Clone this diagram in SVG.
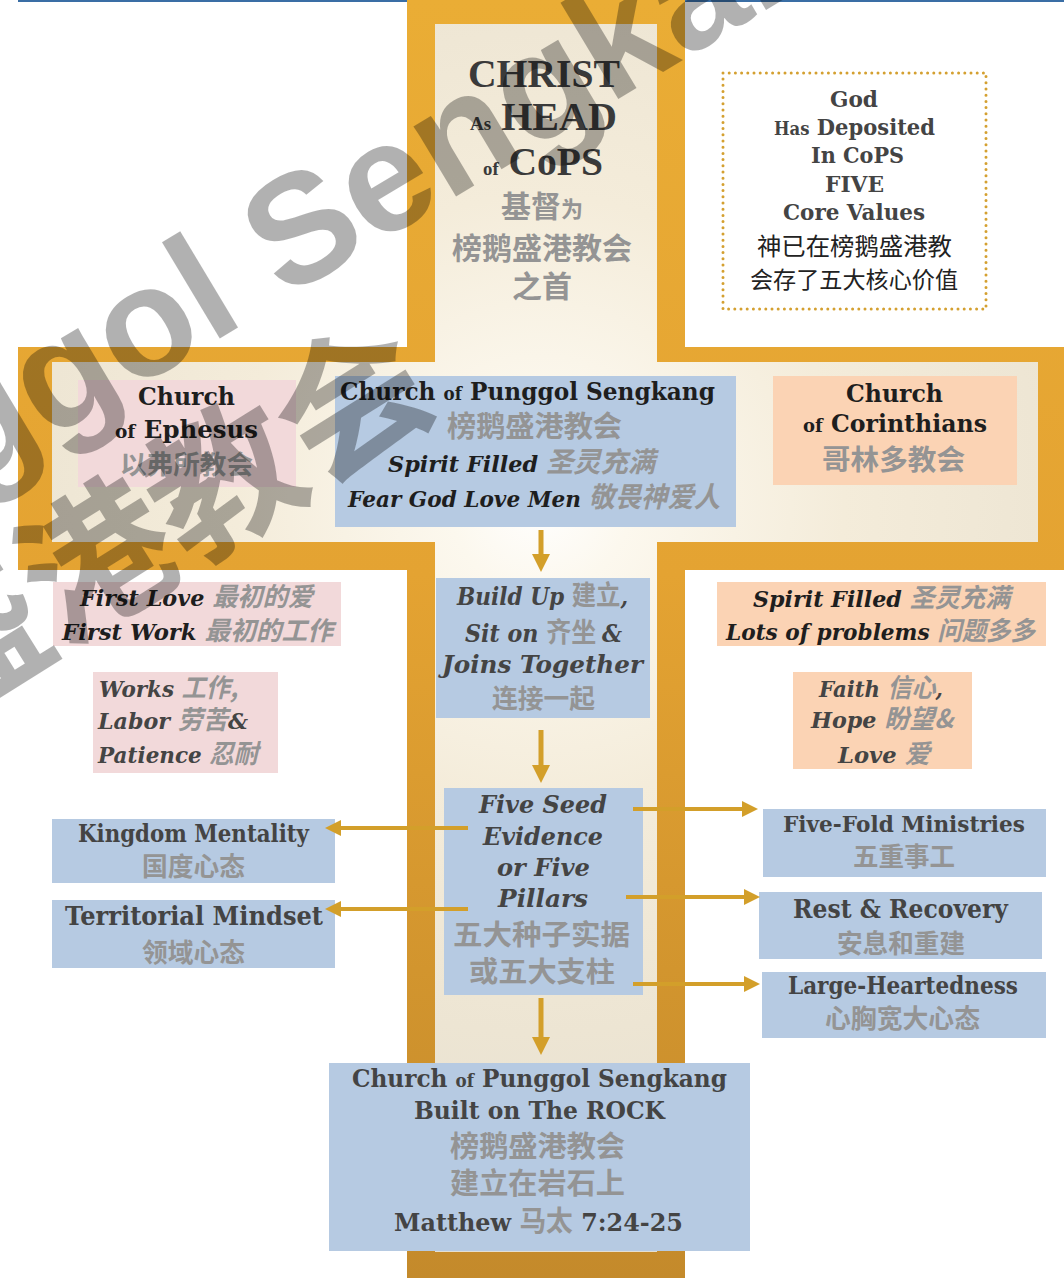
<svg xmlns="http://www.w3.org/2000/svg" width="1064" height="1278" viewBox="0 0 1064 1278">
<defs>
<linearGradient id="gold" x1="0" y1="0" x2="0" y2="1278" gradientUnits="userSpaceOnUse">
<stop offset="0" stop-color="#eaad35"/>
<stop offset="0.45" stop-color="#e4a332"/>
<stop offset="1" stop-color="#c48a2b"/>
</linearGradient>
<radialGradient id="glow" cx="540" cy="500" r="760" gradientUnits="userSpaceOnUse">
<stop offset="0" stop-color="#ffffff"/>
<stop offset="0.12" stop-color="#fcf8ee"/>
<stop offset="0.4" stop-color="#f4ecda"/>
<stop offset="0.7" stop-color="#ede5d3"/>
<stop offset="1" stop-color="#e4dfd1"/>
</radialGradient>
<marker id="ah" viewBox="0 0 10 10" refX="2" refY="5" markerWidth="18" markerHeight="18" markerUnits="userSpaceOnUse" orient="auto"><path d="M0,0 L10,5 L0,10 Z" fill="#d39f2a"/></marker>
<marker id="ahs" viewBox="0 0 10 10" refX="2" refY="5" markerWidth="16" markerHeight="16" markerUnits="userSpaceOnUse" orient="auto"><path d="M0,0 L10,5 L0,10 Z" fill="#d39f2a"/></marker>
<style>
.tm{font-family:"Liberation Serif","Times New Roman",serif;font-weight:bold;fill:#3a3a3a}
.en{font-family:"DejaVu Serif","Liberation Serif",serif;font-weight:bold}
.ei{font-family:"DejaVu Serif","Liberation Serif",serif;font-weight:bold;font-style:italic}
.cn{font-family:"Noto Sans CJK SC",sans-serif;font-weight:bold;fill:#949494}
.ci{font-family:"Noto Sans CJK SC",sans-serif;font-weight:bold;font-style:italic;fill:#949494}
.cb{font-family:"Noto Sans CJK SC",sans-serif;font-weight:normal;fill:#222}
.k{fill:#1e1e1e}
.g{fill:#444}
.blue{fill:#b6cae2}
.pink{fill:#f2d9da}
.peach{fill:#fbd3b4}
.conn line{stroke:#d39f2a;fill:none}
.wm{font-family:"Liberation Sans",Arial,sans-serif;font-weight:bold;fill:#000;opacity:0.3}
.wmc{font-family:"Noto Sans CJK SC",sans-serif;font-weight:bold;fill:#000;opacity:0.3}
</style>
</defs>

<rect x="0" y="0" width="1064" height="1278" fill="#ffffff"/>
<line x1="18" y1="1" x2="1064" y2="1" stroke="#3a6ea5" stroke-width="2"/>

<g id="cross">
<path d="M407,0 H685 V347 H1064 V570 H685 V1278 H407 V570 H18 V347 H407 Z" fill="url(#gold)"/>
<path d="M435,24 H657 V362 H1038 V542 H657 V1252 H435 V542 H52 V362 H435 Z" fill="url(#glow)"/>
</g>

<g id="christ-head">
<text class="tm" x="468" y="87" font-size="40" textLength="152" lengthAdjust="spacingAndGlyphs">CHRIST</text>
<text class="tm" x="470" y="130" textLength="147" lengthAdjust="spacingAndGlyphs"><tspan font-size="19">As</tspan><tspan font-size="40"> HEAD</tspan></text>
<text class="tm" x="483" y="175" textLength="120" lengthAdjust="spacingAndGlyphs"><tspan font-size="19">of</tspan><tspan font-size="40"> CoPS</tspan></text>
<text class="cn" x="542" y="217" text-anchor="middle"><tspan font-size="30">基督</tspan><tspan font-size="22">为</tspan></text>
<text class="cn" x="542" y="259" text-anchor="middle" font-size="30">榜鹅盛港教会</text>
<text class="cn" x="542" y="297" text-anchor="middle" font-size="30">之首</text>
</g>

<g id="core-values">
<rect x="723" y="73" width="263" height="236" fill="none" stroke="#d4a030" stroke-width="3" stroke-linecap="round" stroke-dasharray="0 6.2"/>
<text class="en g" x="830" y="107" font-size="23" textLength="48" lengthAdjust="spacingAndGlyphs">God</text>
<text class="en g" x="774" y="135" textLength="161" lengthAdjust="spacingAndGlyphs"><tspan font-size="18">Has</tspan><tspan font-size="23"> Deposited</tspan></text>
<text class="en g" x="811" y="163" font-size="23" textLength="93" lengthAdjust="spacingAndGlyphs">In CoPS</text>
<text class="en g" x="825" y="192" font-size="23" textLength="59" lengthAdjust="spacingAndGlyphs">FIVE</text>
<text class="en g" x="783" y="220" font-size="23" textLength="142" lengthAdjust="spacingAndGlyphs">Core Values</text>
<text class="cb" x="757" y="255" font-size="24" textLength="195" lengthAdjust="spacingAndGlyphs">神已在榜鹅盛港教</text>
<text class="cb" x="750" y="288" font-size="23" textLength="208" lengthAdjust="spacingAndGlyphs">会存了五大核心价值</text>
</g>

<g id="ephesus">
<rect class="pink" x="78" y="380" width="218" height="107"/>
<text class="en k" x="138" y="405" font-size="25" textLength="97" lengthAdjust="spacingAndGlyphs">Church</text>
<text class="en k" x="115" y="438" textLength="143" lengthAdjust="spacingAndGlyphs"><tspan font-size="19">of</tspan><tspan font-size="25">  Ephesus</tspan></text>
<text class="cn" x="120" y="474" font-size="26" textLength="133" lengthAdjust="spacingAndGlyphs">以弗所教会</text>
</g>

<g id="cops">
<rect class="blue" x="335" y="376" width="401" height="151"/>
<text class="en k" x="340" y="400" font-size="25" textLength="375" lengthAdjust="spacingAndGlyphs">Church <tspan font-size="18">of</tspan> Punggol Sengkang</text>
<text class="cn" x="447" y="437" font-size="29" textLength="175" lengthAdjust="spacingAndGlyphs">榜鹅盛港教会</text>
<text x="388" y="472" textLength="267" lengthAdjust="spacingAndGlyphs"><tspan class="ei k" font-size="23">Spirit Filled </tspan><tspan class="ci" font-size="28">圣灵充满</tspan></text>
<text x="348" y="507" textLength="372" lengthAdjust="spacingAndGlyphs"><tspan class="ei k" font-size="23">Fear God Love Men </tspan><tspan class="ci" font-size="28">敬畏神爱人</tspan></text>
</g>

<g id="corinthians">
<rect class="peach" x="773" y="376" width="244" height="109"/>
<text class="en k" x="846" y="402" font-size="25" textLength="97" lengthAdjust="spacingAndGlyphs">Church</text>
<text class="en k" x="803" y="432" textLength="184" lengthAdjust="spacingAndGlyphs"><tspan font-size="19">of</tspan><tspan font-size="25"> Corinthians</tspan></text>
<text class="cn" x="822" y="470" font-size="28" textLength="143" lengthAdjust="spacingAndGlyphs">哥林多教会</text>
</g>

<g id="first-love">
<rect class="pink" x="53" y="582" width="288" height="64"/>
<text x="80" y="606" textLength="233" lengthAdjust="spacingAndGlyphs"><tspan class="ei k" font-size="23">First Love </tspan><tspan class="ci" font-size="26">最初的爱</tspan></text>
<text x="62" y="640" textLength="271" lengthAdjust="spacingAndGlyphs"><tspan class="ei k" font-size="23">First Work </tspan><tspan class="ci" font-size="26">最初的工作</tspan></text>
</g>

<g id="works">
<rect class="pink" x="93" y="672" width="185" height="101"/>
<text x="99" y="697" textLength="139" lengthAdjust="spacingAndGlyphs"><tspan class="ei g" font-size="23">Works </tspan><tspan class="ci" font-size="26">工作,</tspan></text>
<text x="98" y="729" textLength="150" lengthAdjust="spacingAndGlyphs"><tspan class="ei g" font-size="23">Labor </tspan><tspan class="ci" font-size="26">劳苦</tspan><tspan class="ei g" font-size="23">&amp;</tspan></text>
<text x="98" y="763" textLength="160" lengthAdjust="spacingAndGlyphs"><tspan class="ei g" font-size="23">Patience </tspan><tspan class="ci" font-size="26">忍耐</tspan></text>
</g>

<g id="spirit-filled">
<rect class="peach" x="717" y="582" width="329" height="64"/>
<text x="753" y="607" textLength="257" lengthAdjust="spacingAndGlyphs"><tspan class="ei k" font-size="23">Spirit Filled </tspan><tspan class="ci" font-size="26">圣灵充满</tspan></text>
<text x="726" y="640" textLength="309" lengthAdjust="spacingAndGlyphs"><tspan class="ei k" font-size="23">Lots of problems </tspan><tspan class="ci" font-size="26">问题多多</tspan></text>
</g>

<g id="faith">
<rect class="peach" x="793" y="672" width="179" height="97"/>
<text x="819" y="697" textLength="124" lengthAdjust="spacingAndGlyphs"><tspan class="ei g" font-size="23">Faith </tspan><tspan class="ci" font-size="26">信心</tspan><tspan class="ei g" font-size="23">,</tspan></text>
<text x="811" y="728" textLength="142" lengthAdjust="spacingAndGlyphs"><tspan class="ei g" font-size="23">Hope </tspan><tspan class="ci" font-size="26">盼望&amp;</tspan></text>
<text x="838" y="763" textLength="92" lengthAdjust="spacingAndGlyphs"><tspan class="ei g" font-size="23">Love </tspan><tspan class="ci" font-size="26">爱</tspan></text>
</g>

<g id="build-up">
<rect class="blue" x="436" y="578" width="214" height="140"/>
<text x="457" y="605" textLength="171" lengthAdjust="spacingAndGlyphs"><tspan class="ei g" font-size="24">Build Up </tspan><tspan class="cn" font-size="27">建立</tspan><tspan class="ei g" font-size="24">,</tspan></text>
<text x="465" y="642" textLength="157" lengthAdjust="spacingAndGlyphs"><tspan class="ei g" font-size="24">Sit on </tspan><tspan class="cn" font-size="27">齐坐 </tspan><tspan class="ei g" font-size="24">&amp;</tspan></text>
<text class="ei g" x="442" y="673" font-size="25" textLength="201" lengthAdjust="spacingAndGlyphs">Joins Together</text>
<text class="cn" x="492" y="708" font-size="26" textLength="103" lengthAdjust="spacingAndGlyphs">连接一起</text>
</g>

<g id="five-seed">
<rect class="blue" x="444" y="788" width="199" height="207"/>
<text class="ei g" x="479" y="813" font-size="25" textLength="128" lengthAdjust="spacingAndGlyphs">Five Seed</text>
<text class="ei g" x="483" y="845" font-size="25" textLength="120" lengthAdjust="spacingAndGlyphs">Evidence</text>
<text class="ei g" x="497" y="876" font-size="25" textLength="93" lengthAdjust="spacingAndGlyphs">or Five</text>
<text class="ei g" x="498" y="907" font-size="25" textLength="90" lengthAdjust="spacingAndGlyphs">Pillars</text>
<text class="cn" x="453" y="945" font-size="28" textLength="177" lengthAdjust="spacingAndGlyphs">五大种子实据</text>
<text class="cn" x="469" y="982" font-size="28" textLength="146" lengthAdjust="spacingAndGlyphs">或五大支柱</text>
</g>

<g id="kingdom">
<rect class="blue" x="52" y="819" width="283" height="64"/>
<text class="en g" x="78" y="842" font-size="24" textLength="231" lengthAdjust="spacingAndGlyphs">Kingdom Mentality</text>
<text class="cn" x="142" y="876" font-size="26" textLength="103" lengthAdjust="spacingAndGlyphs">国度心态</text>
</g>

<g id="territorial">
<rect class="blue" x="52" y="900" width="283" height="68"/>
<text class="en g" x="65" y="925" font-size="26" textLength="258" lengthAdjust="spacingAndGlyphs">Territorial Mindset</text>
<text class="cn" x="142" y="962" font-size="26" textLength="103" lengthAdjust="spacingAndGlyphs">领域心态</text>
</g>

<g id="five-fold">
<rect class="blue" x="763" y="809" width="283" height="68"/>
<text class="en g" x="783" y="832" font-size="23" textLength="242" lengthAdjust="spacingAndGlyphs">Five-Fold Ministries</text>
<text class="cn" x="853" y="866" font-size="26" textLength="102" lengthAdjust="spacingAndGlyphs">五重事工</text>
</g>

<g id="rest">
<rect class="blue" x="759" y="892" width="283" height="67"/>
<text class="en g" x="793" y="918" font-size="26" textLength="215" lengthAdjust="spacingAndGlyphs">Rest &amp; Recovery</text>
<text class="cn" x="837" y="953" font-size="26" textLength="128" lengthAdjust="spacingAndGlyphs">安息和重建</text>
</g>

<g id="large-heart">
<rect class="blue" x="762" y="972" width="284" height="66"/>
<text class="en g" x="788" y="994" font-size="24" textLength="230" lengthAdjust="spacingAndGlyphs">Large-Heartedness</text>
<text class="cn" x="825" y="1028" font-size="26" textLength="155" lengthAdjust="spacingAndGlyphs">心胸宽大心态</text>
</g>

<g id="rock">
<rect class="blue" x="329" y="1063" width="421" height="188"/>
<text class="en g" x="352" y="1087" font-size="25" textLength="375" lengthAdjust="spacingAndGlyphs">Church <tspan font-size="18">of</tspan> Punggol Sengkang</text>
<text class="en g" x="414" y="1119" font-size="25" textLength="251" lengthAdjust="spacingAndGlyphs">Built on The ROCK</text>
<text class="cn" x="450" y="1157" font-size="29" textLength="175" lengthAdjust="spacingAndGlyphs">榜鹅盛港教会</text>
<text class="cn" x="450" y="1194" font-size="29" textLength="175" lengthAdjust="spacingAndGlyphs">建立在岩石上</text>
<text x="394" y="1231" textLength="289" lengthAdjust="spacingAndGlyphs"><tspan class="en g" font-size="25">Matthew </tspan><tspan class="cn" font-size="28" font-weight="normal">马太</tspan><tspan class="en g" font-size="25"> 7:24-25</tspan></text>
</g>

<g id="connectors" class="conn">
<line x1="541" y1="530" x2="541" y2="557.6" stroke-width="5" marker-end="url(#ah)"/>
<line x1="541" y1="730" x2="541" y2="768.6" stroke-width="5" marker-end="url(#ah)"/>
<line x1="541" y1="998" x2="541" y2="1040.6" stroke-width="5" marker-end="url(#ah)"/>
<line x1="468" y1="828" x2="337.8" y2="828" stroke-width="4" marker-end="url(#ahs)"/>
<line x1="468" y1="909" x2="337.8" y2="909" stroke-width="4" marker-end="url(#ahs)"/>
<line x1="633" y1="809" x2="745.2" y2="809" stroke-width="4" marker-end="url(#ahs)"/>
<line x1="626" y1="897" x2="747.2" y2="897" stroke-width="4" marker-end="url(#ahs)"/>
<line x1="633" y1="984" x2="747.2" y2="984" stroke-width="4" marker-end="url(#ahs)"/>
</g>

<g id="watermark">
<text class="wm" font-size="155" transform="translate(-284,641) rotate(-31)">Punggol Sengkang</text>
<text class="wmc" font-size="150" text-anchor="end" transform="translate(444,408) rotate(-32)">榜鹅盛港教会</text>
</g>
</svg>
